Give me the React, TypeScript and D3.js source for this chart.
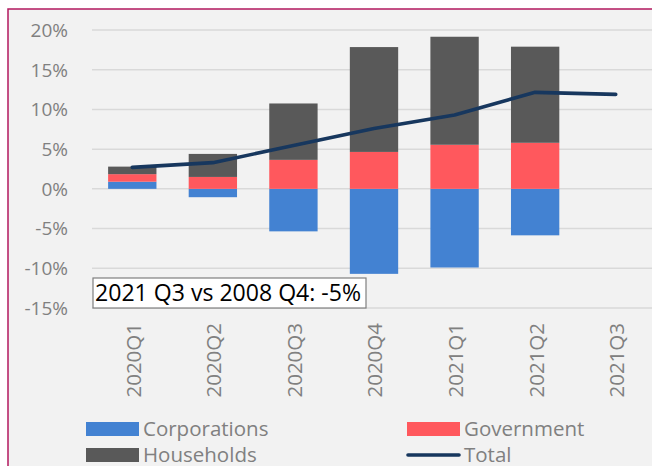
import React from "react";
import * as d3 from "d3";

const categories = ["2020Q1", "2020Q2", "2020Q3", "2020Q4", "2021Q1", "2021Q2", "2021Q3"];
const corporations = [0.9, -1.05, -5.35, -10.7, -9.9, -5.85, null];
const government = [0.95, 1.5, 3.65, 4.65, 5.55, 5.8, null];
const households = [0.95, 2.9, 7.1, 13.2, 13.6, 12.1, null];
const total = [2.7, 3.3, 5.45, 7.6, 9.3, 12.15, 11.9];
const yTicks = [20, 15, 10, 5, 0, -5, -10, -15];
const annotation = "2021 Q3 vs 2008 Q4: -5%";

const W = 652;
const H = 466;
const FONT = "'Open Sans', 'Noto Sans', sans-serif";
const colors = { corp: "#4382d2", gov: "#ff585d", hh: "#595959", total: "#17375e" };

const App = () => {
  const x = d3.scaleBand().domain(categories).range([92, 656]).paddingInner(0.4).paddingOuter(0.2);
  const y = d3.scaleLinear().domain([-15, 20]).range([308, 30]);

  const rows = categories.map((c, i) => ({
    cat: c,
    corp: corporations[i] ?? 0,
    gov: government[i] ?? 0,
    hh: households[i] ?? 0,
  }));
  const stack = d3
    .stack<any>()
    .keys(["corp", "gov", "hh"])
    .offset(d3.stackOffsetDiverging);
  const series = stack(rows);

  const cx = (c: string) => (x(c) ?? 0) + x.bandwidth() / 2;
  const line = d3
    .line<number>()
    .x((_, i) => cx(categories[i]))
    .y((d) => y(d));

  const legend = [
    { label: "Corporations", color: colors.corp, type: "rect", lx: 86, ly: 429 },
    { label: "Government", color: colors.gov, type: "rect", lx: 407, ly: 429 },
    { label: "Households", color: colors.hh, type: "rect", lx: 86, ly: 455 },
    { label: "Total", color: colors.total, type: "line", lx: 407, ly: 455 },
  ];

  return (
    <svg
      width={W}
      height={H}
      style={{ position: "absolute", left: 0, top: 0, fontFamily: FONT }}
    >
      <rect x={0} y={0} width={W} height={H} fill="#ffffff" />
      <rect x={8} y={9} width={W} height={H} fill="#f2f2f2" stroke="#b3195f" strokeWidth={1.5} />

      {yTicks.map((t) => (
        <g key={t}>
          <line x1={92} x2={W} y1={y(t)} y2={y(t)} stroke="#d9d9d9" strokeWidth={1.5} />
          <text x={68} y={y(t)} dy="0.36em" textAnchor="end" fontSize={19} fill="#808080">
            {t}%
          </text>
        </g>
      ))}

      {series.map((s) => (
        <g key={s.key}>
          {s.map((d, i) =>
            d[1] - d[0] === 0 ? null : (
              <rect
                key={i}
                x={x(categories[i])}
                width={x.bandwidth()}
                y={y(Math.max(d[0], d[1]))}
                height={Math.abs(y(d[0]) - y(d[1]))}
                fill={colors[s.key as "corp" | "gov" | "hh"]}
              />
            )
          )}
        </g>
      ))}

      <path
        d={line(total) ?? ""}
        fill="none"
        stroke={colors.total}
        strokeWidth={3.6}
        strokeLinecap="round"
        strokeLinejoin="round"
      />

      <rect x={93} y={278} width={273} height={30} fill="#ffffff" stroke="#7f7f7f" strokeWidth={1.2} />
      <text x={95} y={301} fontSize={23} textLength={266} lengthAdjust="spacingAndGlyphs" fill="#000000">
        {annotation}
      </text>

      {categories.map((c) => (
        <text
          key={c}
          transform={`translate(${cx(c) + 1},323) rotate(-90)`}
          textAnchor="end"
          dy="0.36em"
          fontSize={20.5}
          fill="#808080"
        >
          {c}
        </text>
      ))}

      {legend.map((l) => (
        <g key={l.label}>
          {l.type === "rect" ? (
            <rect x={l.lx} y={l.ly - 7} width={53} height={14} fill={l.color} />
          ) : (
            <line x1={l.lx + 1} x2={l.lx + 52} y1={l.ly} y2={l.ly} stroke={l.color} strokeWidth={3.6} strokeLinecap="round" />
          )}
          <text x={l.lx + 57} y={l.ly} dy="0.36em" fontSize={20.5} fill="#808080">
            {l.label}
          </text>
        </g>
      ))}
    </svg>
  );
};

export default App;
